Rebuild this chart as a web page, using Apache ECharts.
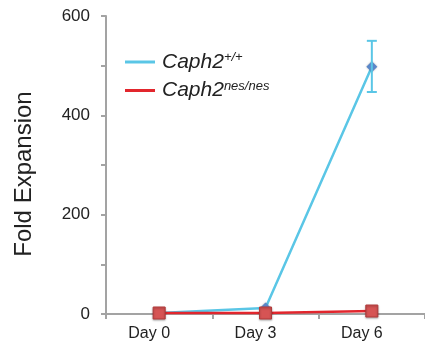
<!DOCTYPE html>
<html><head><meta charset="utf-8">
<script src="https://cdn.jsdelivr.net/npm/echarts@6/dist/echarts.min.js"></script>
<style>html,body{margin:0;padding:0;background:#fff}#c{width:425px;height:351px}</style>
</head><body><div id="c"></div>
<script>
const categories = ['Day 0', 'Day 3', 'Day 6'];
const wildType = [2, 12, 498];
const wildTypeErrLow = [null, null, 447];
const wildTypeErrHigh = [null, null, 550];
const mutant = [2, 2, 6];
const yTicks = [0, 200, 400, 600];
const seriesNames = ['Caph2 +/+', 'Caph2 nes/nes'];
const superscripts = ['+/+', 'nes/nes'];

const cyan = '#5ac6e6';
const red = '#e2262d';
const font = 'Liberation Sans';

const errData = categories.map((c, i) => [i, wildTypeErrLow[i], wildTypeErrHigh[i]]).filter(d => d[1] != null);

const chart = echarts.init(document.getElementById('c'), null, {renderer: 'canvas'});
chart.setOption({
  animation: false,
  grid: {left: 106, right: 0, top: 16, bottom: 37},
  legend: {
    orient: 'vertical', left: 120, top: 46, itemGap: 7,
    itemWidth: 30, itemHeight: 3, icon: 'rect',
    data: [
      {name: seriesNames[0], itemStyle: {color: cyan, borderWidth: 0, shadowBlur: 0}},
      {name: seriesNames[1], itemStyle: {color: red, borderWidth: 0, shadowBlur: 0}}
    ],
    formatter: n => '{i|Caph2}{s|' + superscripts[seriesNames.indexOf(n)] + '}',
    textStyle: {
      rich: {
        i: {fontFamily: font, fontStyle: 'italic', fontSize: 21, color: '#222', lineHeight: 22, padding: [0, 0, 0, 2]},
        s: {fontFamily: font, fontStyle: 'italic', fontSize: 13, color: '#222', lineHeight: 13, verticalAlign: 'top'}
      }
    }
  },
  xAxis: {
    type: 'category', data: categories, boundaryGap: true,
    axisLine: {lineStyle: {color: '#a3a3a3', width: 2}},
    axisTick: {show: true, alignWithLabel: false, length: 5, lineStyle: {color: '#a3a3a3', width: 2}},
    axisLabel: {fontFamily: font, fontSize: 16, color: '#222', margin: 12, padding: [0, 20, 0, 0]}
  },
  yAxis: {
    type: 'value', min: 0, max: 600, interval: 100,
    name: 'Fold Expansion', nameLocation: 'middle', nameGap: 70,
    nameTextStyle: {fontFamily: font, fontSize: 24, color: '#222', padding: [0, 18, 0, 0]},
    axisLine: {show: true, lineStyle: {color: '#a3a3a3', width: 2}},
    axisTick: {show: true, length: 5, lineStyle: {color: '#a3a3a3', width: 2}},
    splitLine: {show: false},
    axisLabel: {fontFamily: font, fontSize: 17, color: '#222', margin: 16,
      formatter: v => yTicks.includes(v) ? String(v) : ''}
  },
  series: [
    {
      name: seriesNames[0], type: 'line', data: wildType,
      symbol: 'diamond', symbolSize: 11,
      lineStyle: {color: cyan, width: 2.5},
      itemStyle: {color: '#5a87c9', shadowColor: 'rgba(0,0,0,0.3)', shadowBlur: 2},
      z: 2
    },
    {
      name: 'err', type: 'custom', data: errData, z: 3,
      renderItem: (params, api) => {
        const x = api.coord([api.value(0), api.value(1)])[0];
        const lo = api.coord([api.value(0), api.value(1)])[1];
        const hi = api.coord([api.value(0), api.value(2)])[1];
        const w = 5;
        const st = {stroke: cyan, lineWidth: 2};
        return {type: 'group', children: [
          {type: 'line', shape: {x1: x, y1: lo, x2: x, y2: hi}, style: st},
          {type: 'line', shape: {x1: x - w, y1: lo, x2: x + w, y2: lo}, style: st},
          {type: 'line', shape: {x1: x - w, y1: hi, x2: x + w, y2: hi}, style: st}
        ]};
      }
    },
    {
      name: seriesNames[1], type: 'line', data: mutant,
      symbol: 'rect', symbolSize: 12,
      lineStyle: {color: red, width: 2.5},
      itemStyle: {color: '#d65454', borderColor: '#b23a3a', borderWidth: 1, shadowColor: 'rgba(0,0,0,0.3)', shadowBlur: 2, shadowOffsetY: 1},
      z: 4
    }
  ]
});
</script></body></html>
